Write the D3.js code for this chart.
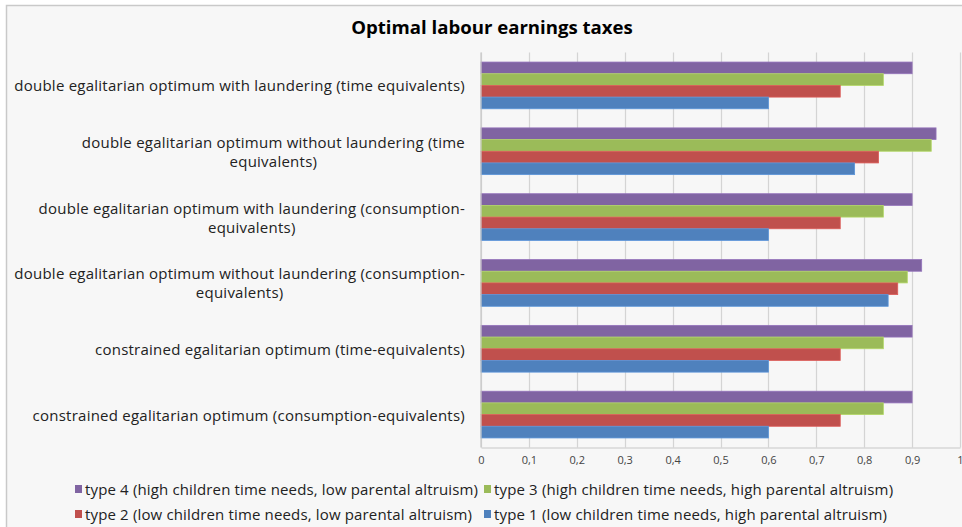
<!DOCTYPE html>
<html>
<head>
<meta charset="utf-8">
<script src="https://cdn.jsdelivr.net/npm/d3@7"></script>
<style>
  html, body { margin: 0; padding: 0; background: #ffffff; }
  svg { display: block; }
</style>
</head>
<body>
<svg id="chart" width="962" height="527"></svg>
<script>
// ---- data ----
const title = "Optimal labour earnings taxes";
const categories = [
  "double egalitarian optimum with laundering (time equivalents)",
  "double egalitarian optimum without laundering (time\nequivalents)",
  "double egalitarian optimum with laundering (consumption-\nequivalents)",
  "double egalitarian optimum without laundering (consumption-\nequivalents)",
  "constrained egalitarian optimum (time-equivalents)",
  "constrained egalitarian optimum (consumption-equivalents)"
];
const seriesNames = [
  "type 4 (high children time needs, low parental altruism)",
  "type 3 (high children time needs, high parental altruism)",
  "type 2 (low children time needs, low parental altruism)",
  "type 1 (low children time needs, high parental altruism)"
];
const type4 = [0.90, 0.95, 0.90, 0.92, 0.90, 0.90];
const type3 = [0.84, 0.94, 0.84, 0.89, 0.84, 0.84];
const type2 = [0.75, 0.83, 0.75, 0.87, 0.75, 0.75];
const type1 = [0.60, 0.78, 0.60, 0.85, 0.60, 0.60];
const seriesValues = [type4, type3, type2, type1];
const seriesColors = ["#8064a2", "#9bbb59", "#c0504d", "#4f81bd"];
const xTicks = [0, 0.1, 0.2, 0.3, 0.4, 0.5, 0.6, 0.7, 0.8, 0.9, 1];

// ---- layout ----
const svg = d3.select("#chart");
const W = 962, H = 527;
const plot = { left: 481, right: 960, top: 52.5, bottom: 447.5 };
const font = "'Open Sans', 'Noto Sans', sans-serif";

// frame
svg.append("rect")
  .attr("x", 6.5).attr("y", 5.5)
  .attr("width", W).attr("height", H)
  .attr("fill", "#f7f7f7").attr("stroke", "#c9c9c9").attr("stroke-width", 1.5);

// title
svg.append("text")
  .attr("x", 492).attr("y", 34)
  .attr("text-anchor", "middle")
  .attr("font-family", font).attr("font-weight", "bold").attr("font-size", 18.6)
  .attr("fill", "#000")
  .text(title);

const x = d3.scaleLinear().domain([0, 1]).range([plot.left, plot.right]);
const y = d3.scaleBand().domain(categories).range([plot.top, plot.bottom])
  .paddingInner(0.29).paddingOuter(0.145);
const ySub = d3.scaleBand().domain(d3.range(seriesNames.length)).range([0, y.bandwidth()]).padding(0);

// gridlines
svg.append("g").selectAll("line").data(xTicks).join("line")
  .attr("x1", d => Math.round(x(d)) + 0.5).attr("x2", d => Math.round(x(d)) + 0.5)
  .attr("y1", plot.top).attr("y2", plot.bottom)
  .attr("stroke", "#d4d4d4").attr("stroke-width", 1.2);

// bars
const groups = svg.append("g").selectAll("g").data(categories).join("g")
  .attr("transform", c => `translate(0,${y(c)})`);
groups.selectAll("rect")
  .data((c, ci) => seriesValues.map((vals, si) => ({ si, v: vals[ci] })))
  .join("rect")
  .attr("x", x(0))
  .attr("y", d => ySub(d.si))
  .attr("width", d => x(d.v) - x(0))
  .attr("height", ySub.bandwidth())
  .attr("fill", d => seriesColors[d.si])
  .attr("stroke", d => d3.color(seriesColors[d.si]).brighter(0.4))
  .attr("stroke-width", 0.8);

// axes lines
svg.append("line")
  .attr("x1", x(0)).attr("x2", x(0)).attr("y1", plot.top).attr("y2", plot.bottom)
  .attr("stroke", "#c8c8c8").attr("stroke-width", 1.2);
const xAxis = d3.axisBottom(x).tickValues(xTicks)
  .tickFormat(d => d3.format(".1~f")(d).replace(".", ","))
  .tickSize(0).tickPadding(9);
const gx = svg.append("g").attr("transform", `translate(0,${plot.bottom})`).call(xAxis);
gx.select(".domain").attr("stroke", "#c8c8c8").attr("stroke-width", 1.2);
gx.selectAll("text").attr("font-family", font).attr("font-size", 11).attr("fill", "#444");

// category labels (right aligned block, lines centered within block)
const labelRight = 465;
const lineH = 19;
categories.forEach(c => {
  const lines = c.split("\n");
  const g = svg.append("g");
  const texts = lines.map((ln, i) => g.append("text")
    .attr("font-family", font).attr("font-size", 15).attr("letter-spacing", 0.24)
    .attr("fill", "#222")
    .attr("dominant-baseline", "central")
    .attr("y", y(c) + y.bandwidth() / 2 + (i - (lines.length - 1) / 2) * lineH)
    .text(ln));
  const maxW = d3.max(texts, t => t.node().getComputedTextLength());
  const cx = labelRight - maxW / 2;
  texts.forEach(t => t.attr("x", cx).attr("text-anchor", "middle"));
});

// legend
const legendPos = [
  { x: 75, y: 489 }, { x: 484, y: 489 },
  { x: 75, y: 514 }, { x: 484, y: 514 }
];
const lg = svg.append("g").selectAll("g").data(seriesNames).join("g")
  .attr("transform", (d, i) => `translate(${legendPos[i].x},${legendPos[i].y})`);
lg.append("rect").attr("x", 0).attr("y", -4).attr("width", 7).attr("height", 8)
  .attr("fill", (d, i) => seriesColors[i]);
lg.append("text").attr("x", 10).attr("y", 0)
  .attr("dominant-baseline", "central")
  .attr("font-family", font).attr("font-size", 15).attr("letter-spacing", 0.15)
  .attr("fill", "#222")
  .text(d => d);
</script>
</body>
</html>
